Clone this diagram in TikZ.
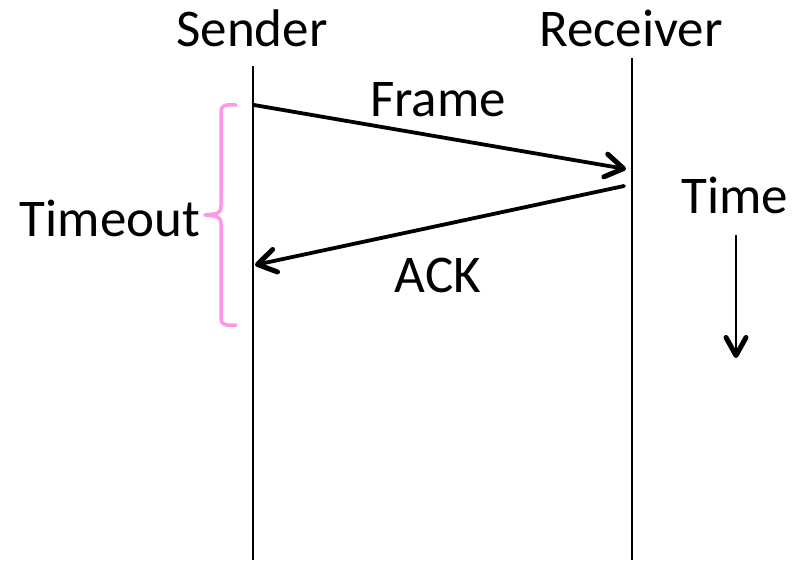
\documentclass[tikz,border=0pt]{standalone}
\usepackage{fontspec}
\setmainfont{Carlito}
\usetikzlibrary{arrows.meta}
\definecolor{bracepink}{RGB}{255,150,230}
\begin{document}
\begin{tikzpicture}[x=1pt,y=-1pt,
  lbl/.style={font=\fontsize{53}{62}\selectfont, anchor=base, inner sep=0pt},
  life/.style={line width=2pt},
  msg/.style={line width=3.8pt, line cap=round, -{Straight Barb[length=18pt,width=23pt,line width=5pt,line cap=round,line join=round]}},
  timearr/.style={line width=2pt, -{Straight Barb[length=18pt,width=20pt,line width=5pt,line cap=round,line join=round]}},
  bracestyle/.style={line width=3.5pt, draw=bracepink, line cap=round, line join=round}]
\useasboundingbox (0,0) rectangle (795,560);
% labels
\node[lbl] (sender) at (252,46) {Sender};
\node[lbl] (receiver) at (631,46) {Receiver};
\node[lbl] (frame) at (438,116) {Frame};
\node[lbl] (ack) at (438,292) {ACK};
\node[lbl] (timeout) at (110,236) {Timeout};
\node[lbl] (time) at (735,213) {Time};
% lifelines
\coordinate (s1) at (253,66);
\coordinate (s2) at (253,560);
\coordinate (r1) at (632,58);
\coordinate (r2) at (632,560);
\draw[life] (s1) -- (s2);
\draw[life] (r1) -- (r2);
% messages
\coordinate (fa) at (254,105);
\coordinate (fb) at (626,169);
\coordinate (aa) at (624,186);
\coordinate (ab) at (255,265);
\draw[msg] (fa) -- (fb);
\draw[msg] (aa) -- (ab);
% time arrow
\coordinate (t1) at (736,235);
\coordinate (t2) at (736,358);
\draw[timearr] (t1) -- (t2);
% brace
\coordinate (b1) at (236,105);
\coordinate (bm) at (205,215);
\coordinate (b2) at (236,325);
\draw[bracestyle] (b1) .. controls (224,104) and (221,106) .. (221,112)
  -- (221,206) .. controls (221,213) and (218,214) .. (bm)
  .. controls (218,216) and (221,217) .. (221,224)
  -- (221,318) .. controls (221,324) and (224,326) .. (b2);
\end{tikzpicture}
\end{document}
